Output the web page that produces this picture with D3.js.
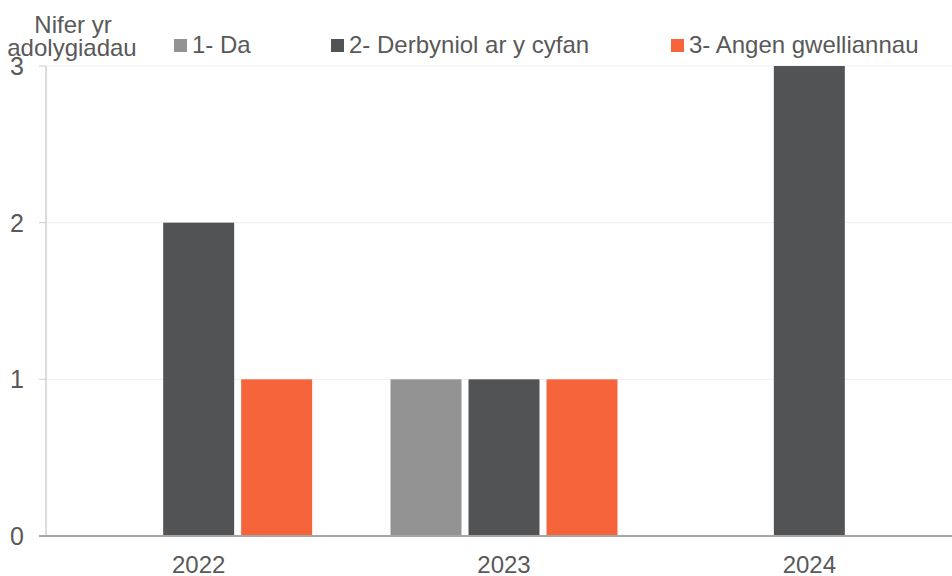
<!DOCTYPE html>
<html>
<head>
<meta charset="utf-8">
<script src="https://cdn.jsdelivr.net/npm/d3@7"></script>
<style>
body { margin: 0; background: #fff; overflow: hidden; }
text { font-family: "Liberation Sans", Arial, sans-serif; fill: #595959; }
</style>
</head>
<body>
<script>
//Width and height
var w = 952;
var h = 576;

//Data
var years = ["2022", "2023", "2024"];
var seriesNames = ["1- Da", "2- Derbyniol ar y cyfan", "3- Angen gwelliannau"];
var da = [0, 1, 0];
var derbyniol = [2, 1, 3];
var angen = [1, 1, 0];
var yTicks = [0, 1, 2, 3];
var colors = ["#939393", "#525355", "#f6643c"];

var seriesValues = [da, derbyniol, angen];

//Plot area (don't call these "top" - clashes with window.top)
var plotLeft = 46, plotRight = 962, plotTop = 66, plotBottom = 536;

var x = d3.scaleBand().domain(years).range([plotLeft, plotRight]);
var xInner = d3.scaleBand().domain(d3.range(3))
               .range([-113.5, 113.5]).paddingInner(0.09);
var y = d3.scaleLinear().domain([0, 3]).range([plotBottom, plotTop]);

var svg = d3.select("body").append("svg")
            .attr("width", w).attr("height", h);

//Gridlines
svg.selectAll("line.grid")
   .data(yTicks.filter(function(d) { return d > 0; }))
   .enter().append("line")
   .attr("x1", plotLeft).attr("x2", w)
   .attr("y1", function(d) { return y(d); })
   .attr("y2", function(d) { return y(d); })
   .attr("stroke", "#efefef").attr("stroke-width", 1);

//Y axis line and ticks
svg.append("line")
   .attr("x1", plotLeft).attr("x2", plotLeft)
   .attr("y1", plotTop).attr("y2", plotBottom)
   .attr("stroke", "#d0d0d0").attr("stroke-width", 1.5);

svg.selectAll("line.ytick")
   .data(yTicks)
   .enter().append("line")
   .attr("x1", plotLeft - 7).attr("x2", plotLeft)
   .attr("y1", function(d) { return y(d); })
   .attr("y2", function(d) { return y(d); })
   .attr("stroke", "#d0d0d0").attr("stroke-width", 1);

//Bars
var rows = [];
years.forEach(function(yr, i) {
    seriesValues.forEach(function(s, j) {
        if (s[i] > 0) rows.push({ year: yr, s: j, value: s[i] });
    });
});

svg.selectAll("rect.bar")
   .data(rows)
   .enter().append("rect")
   .attr("x", function(d) { return x(d.year) + x.bandwidth() / 2 + xInner(d.s); })
   .attr("width", xInner.bandwidth())
   .attr("y", function(d) { return y(d.value); })
   .attr("height", function(d) { return y(0) - y(d.value); })
   .attr("fill", function(d) { return colors[d.s]; });

//X axis line
svg.append("line")
   .attr("x1", plotLeft - 7).attr("x2", w)
   .attr("y1", plotBottom).attr("y2", plotBottom)
   .attr("stroke", "#a6a6a6").attr("stroke-width", 2);

//Y tick labels
svg.selectAll("text.ylab")
   .data(yTicks)
   .enter().append("text")
   .attr("x", 24)
   .attr("y", function(d) { return y(d) + 9; })
   .attr("text-anchor", "end")
   .style("font-size", "25px")
   .text(function(d) { return d; });

//X tick labels
svg.selectAll("text.xlab")
   .data(years)
   .enter().append("text")
   .attr("x", function(d) { return x(d) + x.bandwidth() / 2; })
   .attr("y", 573)
   .attr("text-anchor", "middle")
   .style("font-size", "24px")
   .text(function(d) { return d; });

//Y axis title
svg.append("text")
   .attr("x", 73).attr("y", 33)
   .attr("text-anchor", "middle")
   .style("font-size", "24px")
   .text("Nifer yr");
svg.append("text")
   .attr("x", 72).attr("y", 56)
   .attr("text-anchor", "middle")
   .style("font-size", "24px")
   .text("adolygiadau");

//Legend
var legendX = [174, 331, 671];
var legend = svg.selectAll("g.legend")
   .data(seriesNames)
   .enter().append("g")
   .attr("transform", function(d, i) { return "translate(" + legendX[i] + ",39)"; });

legend.append("rect")
   .attr("width", 13).attr("height", 13)
   .attr("fill", function(d, i) { return colors[i]; });

legend.append("text")
   .attr("x", 18).attr("y", 14)
   .style("font-size", "24px")
   .text(function(d) { return d; });
</script>
</body>
</html>
